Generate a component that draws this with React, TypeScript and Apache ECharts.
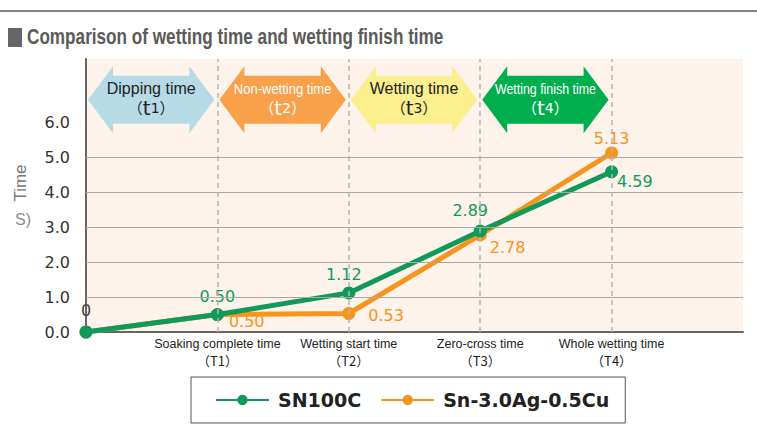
import React, { useEffect, useRef } from "react";
import * as echarts from "echarts";

// ---- data ----
const xIndex = [0, 1, 2, 3, 4];
const stageNames = ["", "Soaking complete time", "Wetting start time", "Zero-cross time", "Whole wetting time"];
const stageCodes = ["", "T1", "T2", "T3", "T4"];
const sn100c = [0, 0.5, 1.12, 2.89, 4.59];
const sac305 = [0, 0.5, 0.53, 2.78, 5.13];
const yTickValues = [0, 1, 2, 3, 4, 5, 6];
const gridValues = [1, 2, 3, 4, 5];
const phaseNames = ["Dipping time", "Non-wetting time", "Wetting time", "Wetting finish time"];
const phaseCodes = ["1", "2", "3", "4"];
const phaseStart = [0, 1, 2, 3];
const phaseEnd = [1, 2, 3, 4];
const seriesNames = ["SN100C", "Sn-3.0Ag-0.5Cu"];

// ---- styles ----
const GREEN = "#0f9a5a";
const ORANGE = "#f7941d";
const phaseFill = ["#b7dbe6", "#f8a04a", "#fbef8e", "#00ae4d"];
const phaseText = ["#222222", "#ffffff", "#222222", "#ffffff"];
const phaseScale = [1, 0.84, 1, 0.8];
const phaseFont = [16, 15.5, 16, 15.5];
const ARROW_Y = 6.65;

const greenLabelPos: any[] = [
  { position: "top", offset: [0, -2], color: "#444" },
  { position: "top", offset: [0, 1] },
  { position: "top", offset: [-5, 1] },
  { position: "top", offset: [-10, -1] },
  { position: "right", offset: [-6, 10] },
];
const orangeLabelPos: any[] = [
  { show: false },
  { position: "right", offset: [0, 7] },
  { position: "right", offset: [8, 2] },
  { position: "right", offset: [-2, 13] },
  { position: "top", offset: [0, 5] },
];

export default function App() {
  const ref = useRef<HTMLDivElement>(null);
  useEffect(() => {
    const chart = echarts.init(ref.current!, null, { renderer: "svg" });
    const labelFont = { fontFamily: "DejaVu Sans", fontSize: 16 };
    const mkData = (vals: number[], pos: any[], color: string) =>
      vals.map((v, i) => ({
        value: [xIndex[i], v],
        label: {
          show: true,
          color,
          ...labelFont,
          formatter: v === 0 ? "0" : v.toFixed(2),
          ...pos[i],
        },
      }));

    const option: any = {
      animation: false,
      backgroundColor: "#ffffff",
      grid: {
        left: 86,
        right: 14,
        top: 59,
        bottom: 107,
        show: true,
        backgroundColor: "#fdf3eb",
        borderWidth: 0,
      },
      graphic: [
        { type: "rect", shape: { x: 0, y: 10, width: 757, height: 2 }, style: { fill: "#858585" } },
        { type: "rect", shape: { x: 8, y: 28, width: 14, height: 19 }, style: { fill: "#666666" } },
        {
          type: "text",
          x: 27,
          y: 25,
          scaleX: 0.78,
          style: {
            text: "Comparison of wetting time and wetting finish time",
            font: 'bold 22px "Liberation Sans"',
            fill: "#5a5a5a",
            verticalAlign: "top",
          },
        },
        {
          type: "text",
          x: 20,
          y: 183,
          rotation: Math.PI / 2,
          style: {
            text: "Time",
            font: '17px "Liberation Sans"',
            fill: "#777777",
            align: "center",
            verticalAlign: "middle",
          },
        },
        {
          type: "text",
          x: 15,
          y: 211,
          style: { text: "S)", font: '16px "Liberation Sans"', fill: "#8a8a8a", verticalAlign: "top" },
        },
      ],
      legend: {
        data: seriesNames,
        left: 191,
        top: 377,
        orient: "horizontal",
        borderColor: "#555",
        borderWidth: 1,
        padding: [13, 16, 13, 24],
        itemWidth: 53,
        itemHeight: 13,
        itemGap: 19,
        textStyle: {
          fontFamily: "DejaVu Sans",
          fontWeight: "bold",
          fontSize: 19,
          color: "#222",
          padding: [0, 0, 0, 4],
          lineHeight: 20,
        },
      },
      xAxis: {
        type: "value",
        min: 0,
        max: 5,
        interval: 1,
        axisLine: { show: true, lineStyle: { color: "#666", width: 2 } },
        axisTick: { show: false },
        splitLine: { show: false },
        axisLabel: {
          margin: 3,
          color: "#222",
          fontFamily: "Liberation Sans",
          fontSize: 12.5,
          lineHeight: 17,
          formatter: (v: number) =>
            v >= 1 && v <= 4 ? `${stageNames[v]}\n{c|（${stageCodes[v]}）}` : "",
          rich: { c: { fontFamily: "Noto Sans CJK JP", fontSize: 13, color: "#222", lineHeight: 17 } },
        },
      },
      yAxis: {
        type: "value",
        min: 0,
        max: 7.82,
        interval: 1,
        axisLine: { show: true, lineStyle: { color: "#666", width: 2 } },
        axisTick: { show: false },
        splitLine: { show: false },
        axisLabel: {
          margin: 16,
          color: "#333",
          fontFamily: "DejaVu Sans",
          fontSize: 16,
          formatter: (v: number) => (yTickValues.includes(v) ? v.toFixed(1) : ""),
        },
      },
      series: [
        {
          name: "grid",
          type: "line",
          data: [],
          z: 1,
          silent: true,
          markLine: {
            silent: true,
            symbol: "none",
            label: { show: false },
            data: [
              ...gridValues.map((v) => ({ yAxis: v, lineStyle: { color: "#a8a8a8", width: 1, type: "solid" } })),
              ...xIndex
                .filter((v) => v > 0)
                .map((v) => ({ xAxis: v, lineStyle: { color: "#b5b5b5", width: 1.5, type: [5, 4] } })),
            ],
          },
        },
        {
          name: "phases",
          type: "custom",
          z: 2,
          silent: true,
          data: phaseStart.map((s, i) => [s, phaseEnd[i], ARROW_Y, i]),
          renderItem: (params: any, api: any) => {
            const i = api.value(3);
            const p0 = api.coord([api.value(0), api.value(2)]);
            const p1 = api.coord([api.value(1), api.value(2)]);
            const L = p0[0] + 2;
            const R = p1[0] - 3;
            const cy = p0[1];
            const hh = 33.5;
            const sh = 24;
            const hl = 25;
            const pts = [
              [L, cy],
              [L + hl, cy - hh],
              [L + hl, cy - sh],
              [R - hl, cy - sh],
              [R - hl, cy - hh],
              [R, cy],
              [R - hl, cy + hh],
              [R - hl, cy + sh],
              [L + hl, cy + sh],
              [L + hl, cy + hh],
            ];
            const cx = (L + R) / 2;
            const col = phaseText[i];
            return {
              type: "group",
              children: [
                { type: "polygon", shape: { points: pts }, style: { fill: phaseFill[i] } },
                {
                  type: "text",
                  x: cx,
                  y: cy - 11,
                  scaleX: phaseScale[i],
                  style: {
                    text: phaseNames[i],
                    x: 0,
                    y: 0,
                    align: "center",
                    verticalAlign: "middle",
                    fill: col,
                    fontFamily: "Liberation Sans",
                    fontSize: phaseFont[i],
                  },
                },
                {
                  type: "text",
                  x: cx,
                  y: cy + 8,
                  style: {
                    text: `{p|（}{t|t}{n|${phaseCodes[i]}}{p|）}`,
                    x: 0,
                    y: 0,
                    align: "center",
                    verticalAlign: "middle",
                    fill: col,
                    rich: {
                      p: { fontFamily: "Noto Sans CJK JP", fontSize: 15, fill: col, color: col },
                      t: { fontFamily: "DejaVu Sans", fontSize: 20, fill: col, color: col },
                      n: { fontFamily: "DejaVu Sans", fontSize: 14, fill: col, color: col },
                    },
                  },
                },
              ],
            };
          },
        },
        {
          name: seriesNames[1],
          type: "line",
          z: 3,
          data: mkData(sac305, orangeLabelPos, ORANGE),
          symbol: "circle",
          symbolSize: 13,
          lineStyle: { color: ORANGE, width: 5 },
          itemStyle: { color: ORANGE },
        },
        {
          name: seriesNames[0],
          type: "line",
          z: 4,
          data: mkData(sn100c, greenLabelPos, GREEN),
          symbol: "circle",
          symbolSize: 13,
          lineStyle: { color: GREEN, width: 5 },
          itemStyle: { color: GREEN },
        },
      ],
    };
    chart.setOption(option);
    return () => chart.dispose();
  }, []);
  return <div ref={ref} style={{ position: "fixed", left: 0, top: 0, width: 757, height: 439 }} />;
}
